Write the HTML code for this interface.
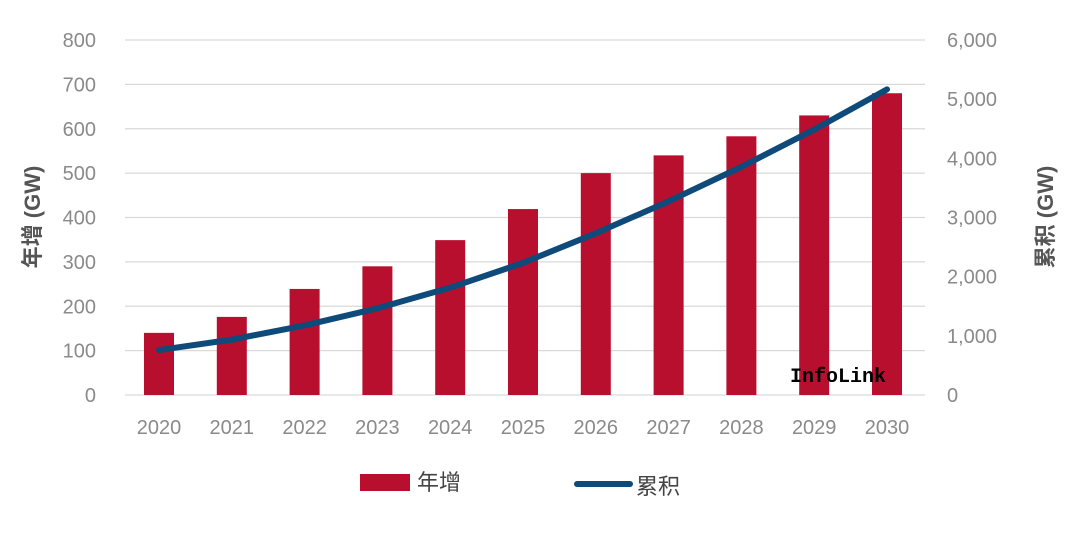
<!DOCTYPE html>
<html><head><meta charset="utf-8"><style>
body{margin:0;background:#fff;}
svg{display:block;font-family:"Liberation Sans","Noto Sans CJK SC",sans-serif;}
</style></head><body>
<svg id="chart" width="1080" height="546" viewBox="0 0 1080 546">
<g id="grid"></g>
<g id="bars"></g>
<g id="line"></g>
<g id="axes"></g>
<text x="40" y="217" transform="rotate(-90 40 217)" text-anchor="middle" font-size="22" font-weight="bold" fill="#555">年增 (GW)</text>
<text x="1053" y="217" transform="rotate(-90 1053 217)" text-anchor="middle" font-size="22" font-weight="bold" fill="#555">累积 (GW)</text>
<text x="838" y="382" text-anchor="middle" font-size="20" font-family="Liberation Mono,monospace" font-weight="bold" fill="#000">InfoLink</text>
<g>
<rect x="360" y="474" width="50" height="17" fill="#b80f2f"/>
<text x="417" y="490" font-size="22" fill="#444">年增</text>
<line x1="577" y1="484" x2="630" y2="484" stroke="#0e4a7a" stroke-width="6" stroke-linecap="round"/>
<text x="636" y="494" font-size="22" fill="#444">累积</text>
</g>
</svg>
<script>
const years=["2020","2021","2022","2023","2024","2025","2026","2027","2028","2029","2030"];
const annual=[140,176,239,290,349,419,500,540,583,630,680];
const cumulative=[760,936,1175,1465,1814,2233,2733,3273,3856,4486,5166];
const leftTicks=[0,100,200,300,400,500,600,700,800];
const rightTicks=[0,1000,2000,3000,4000,5000,6000];
const NS="http://www.w3.org/2000/svg";
const y0=395,y1=40;
const yL=v=>y0-(v/800)*(y0-y1);
const yR=v=>y0-(v/6000)*(y0-y1);
const xC=i=>159+i*72.8;
function mk(tag,attrs,parent,text){const e=document.createElementNS(NS,tag);for(const k in attrs)e.setAttribute(k,attrs[k]);if(text!==undefined)e.textContent=text;parent.appendChild(e);return e;}
const grid=document.getElementById('grid'),axes=document.getElementById('axes'),bars=document.getElementById('bars'),line=document.getElementById('line');
leftTicks.forEach(t=>{
 const g=mk('line',{x1:125,x2:925,y1:yL(t),y2:yL(t),stroke:'#d9d9d9','stroke-width':1.3},grid);
 
 
 const l=mk('text',{x:96,y:yL(t)+7,'text-anchor':'end','font-size':20,fill:'#8a8a8a'},axes,t);
 
 
});
rightTicks.forEach(t=>{
 const l=mk('text',{x:947,y:yR(t)+7,'font-size':20,fill:'#8a8a8a'},axes,t.toLocaleString('en-US'));
 
 
});
years.forEach((yr,i)=>{
 const b=mk('rect',{x:xC(i)-15,y:yL(annual[i]),width:30,height:y0-yL(annual[i]),fill:'#b80f2f'},bars);
 
 
 const l=mk('text',{x:xC(i),y:434,'text-anchor':'middle','font-size':20,fill:'#8a8a8a'},axes,yr);
 
 
});
let d='';cumulative.forEach((v,i)=>{d+=(i?'L':'M')+xC(i)+','+yR(v);});
const p=mk('path',{d:d,fill:'none',stroke:'#0e4a7a','stroke-width':6,'stroke-linecap':'round','stroke-linejoin':'round'},line);


</script>
</body></html>
